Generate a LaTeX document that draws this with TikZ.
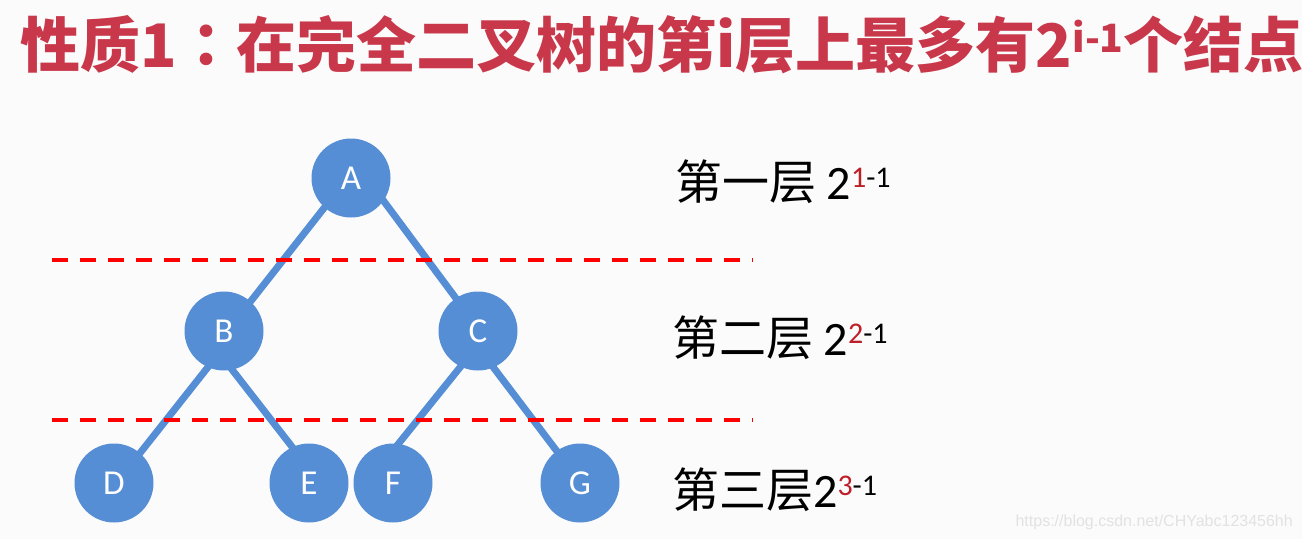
\documentclass[tikz,border=0pt]{standalone}
\usepackage{fontspec}
\usepackage{tikz}
\usetikzlibrary{backgrounds}
\setmainfont{Carlito}
\newfontfamily\cjk{Noto Sans CJK SC}
\newfontfamily\cjktc{Noto Sans CJK TC}
\newfontfamily\webfont{Liberation Sans}
\definecolor{nodeblue}{RGB}{86,142,213}
\definecolor{titlered}{RGB}{200,56,74}
\definecolor{supred}{RGB}{190,30,40}
\definecolor{pagebg}{RGB}{251,251,251}
\definecolor{markgray}{RGB}{226,226,226}
% power 2^{k-1} with the level number in red
\newcommand\levelpow[1]{{\rmfamily\fontsize{48}{48}\selectfont 2}\raisebox{12pt}{\rmfamily\fontsize{30}{30}\selectfont\textcolor{supred}{#1}-1}}

\begin{document}
\begin{tikzpicture}[x=1pt,y=-1pt,
  treenode/.style={circle,fill=nodeblue,text=white,minimum size=79pt,inner sep=0pt,font=\fontsize{35}{35}\selectfont},
  treeedge/.style={nodeblue,line width=7pt,shorten <=-4pt,shorten >=-4pt},
  levelline/.style={red,line width=4pt,dash pattern=on 16pt off 12pt},
  leveltext/.style={anchor=base west,inner sep=0pt,font=\cjk\fontsize{47}{47}\selectfont}]
\useasboundingbox (0,0) rectangle (1302,539);
% Title
\node[anchor=base west,inner sep=0pt,text=titlered,font=\cjk\bfseries\fontsize{60}{60}\selectfont] (title) at (20,67)
  {性质1{\cjktc\bfseries ：}在完全二叉树的第i层上最多有2\raisebox{15pt}{\fontsize{39}{39}\selectfont i-1}个结点};
% Tree
\node[treenode] (A) at (351,178) {A};
\node[treenode] (B) at (224,331) {B};
\node[treenode] (C) at (478,331) {C};
\node[treenode] (D) at (114,483) {D};
\node[treenode] (E) at (309,483) {E};
\node[treenode] (F) at (393,483) {F};
\node[treenode] (G) at (580,483) {G};
\begin{scope}[on background layer]
\fill[pagebg] (0,0) rectangle (1302,539);
\foreach \from/\fa/\to/\ta in {A/-132/B/48,A/-35/C/124,B/-114/D/49,B/-78/E/115,C/-116/F/82,C/-67/G/126}
  \draw[treeedge] (\from.\fa) -- (\to.\ta);
\end{scope}
% Level separators
\draw[levelline] (52,260) -- (753,260);
\draw[levelline] (52,420) -- (753,420);
% Level labels
\node[leveltext] (L1) at (675,199) {第一层 \levelpow{1}};
\node[leveltext] (L2) at (672,355) {第二层 \levelpow{2}};
\node[leveltext] (L3) at (672,507) {第三层\levelpow{3}};
% Watermark
\node[anchor=base east,inner sep=0pt,text=markgray,font=\webfont\fontsize{16}{16}\selectfont] (mark) at (1293,526)
  {https://blog.csdn.net/CHYabc123456hh};
\end{tikzpicture}
\end{document}
